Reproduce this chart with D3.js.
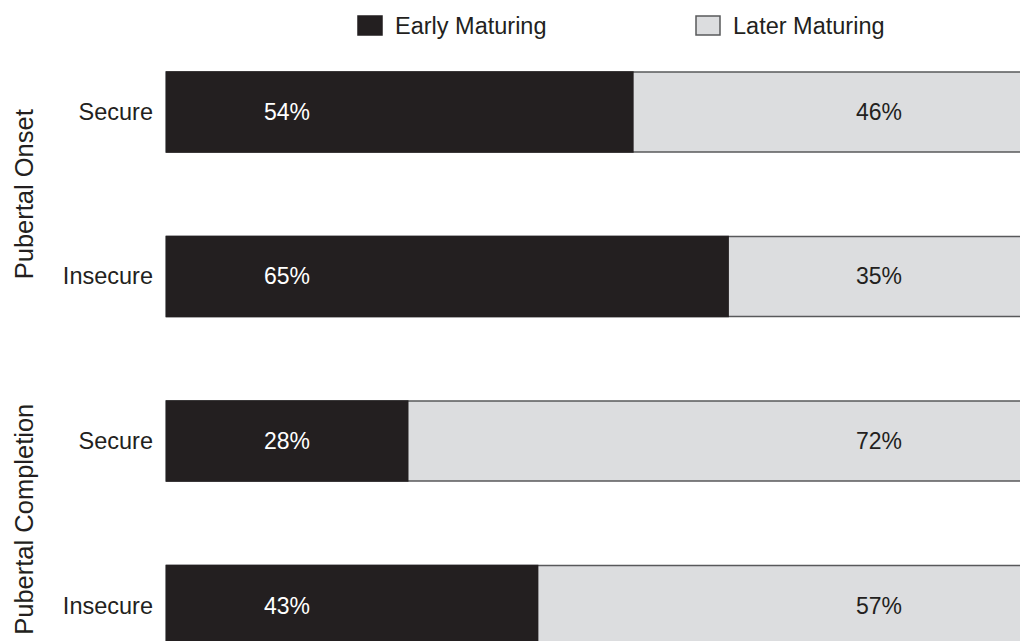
<!DOCTYPE html>
<html>
<head>
<meta charset="utf-8">
<script src="https://cdn.jsdelivr.net/npm/d3@7"></script>
<style>
  html, body { margin: 0; padding: 0; background: #fff; overflow: hidden; }
  text { font-family: "Liberation Sans", Arial, sans-serif; fill: #231f20; }
</style>
</head>
<body>
<script>
// data
const groups = ["Pubertal Onset", "Pubertal Completion"];
const rows = ["Onset-Secure", "Onset-Insecure", "Completion-Secure", "Completion-Insecure"];
const rowLabels = ["Secure", "Insecure", "Secure", "Insecure"];
const rowGroup = [0, 0, 1, 1];
const earlyPct = [54, 65, 28, 43];
const laterPct = [46, 35, 72, 57];
const seriesNames = ["Early Maturing", "Later Maturing"];

const width = 1020, height = 641;
const dark = "#231f20", light = "#dcdddf", edge = "#58595b";

const x = d3.scaleLinear().domain([0, 100]).range([166, 1032]);
const y = d3.scaleBand().domain(rows).range([72, 645.5]).paddingInner(0.5137).paddingOuter(0);

const svg = d3.select("body").append("svg")
  .attr("width", width)
  .attr("height", height);

const data = rows.map((r, i) => ({
  row: r, label: rowLabels[i], group: rowGroup[i],
  early: earlyPct[i], later: laterPct[i]
}));

// later maturing (light) spans whole bar, early drawn on top
svg.append("g").selectAll("rect")
  .data(data)
  .join("rect")
  .attr("x", x(0))
  .attr("y", d => y(d.row))
  .attr("width", x(100) - x(0))
  .attr("height", y.bandwidth())
  .attr("fill", light)
  .attr("stroke", edge)
  .attr("stroke-width", 1.5);

svg.append("g").selectAll("rect")
  .data(data)
  .join("rect")
  .attr("x", x(0))
  .attr("y", d => y(d.row) - 0.75)
  .attr("width", d => x(d.early) - x(0))
  .attr("height", y.bandwidth() + 1.5)
  .attr("fill", dark);

// percent labels
const lab = svg.append("g").attr("font-size", 23);
lab.selectAll(".early")
  .data(data)
  .join("text")
  .attr("x", 287)
  .attr("y", d => y(d.row) + y.bandwidth() / 2 + 8)
  .attr("text-anchor", "middle")
  .style("fill", "#fff")
  .text(d => d.early + "%");
lab.selectAll(".later")
  .data(data)
  .join("text")
  .attr("x", 879)
  .attr("y", d => y(d.row) + y.bandwidth() / 2 + 8)
  .attr("text-anchor", "middle")
  .text(d => d.later + "%");

// row labels
svg.append("g").attr("font-size", 23.5).selectAll("text")
  .data(data)
  .join("text")
  .attr("x", 153)
  .attr("y", d => y(d.row) + y.bandwidth() / 2 + 8)
  .attr("text-anchor", "end")
  .text(d => d.label);

// group labels, rotated (second one sits a bit higher so it stays on the page)
const groupShift = [0, -4];
svg.append("g").attr("font-size", 25.5).selectAll("text")
  .data(groups)
  .join("text")
  .attr("transform", (g, gi) => {
    const rs = data.filter(d => d.group === gi);
    const cy = (y(rs[0].row) + y(rs[rs.length - 1].row) + y.bandwidth()) / 2 + groupShift[gi];
    return `translate(33,${cy}) rotate(-90)`;
  })
  .attr("text-anchor", "middle")
  .text(d => d);

// legend
const legendX = [358, 696];
const leg = svg.append("g").selectAll("g")
  .data(seriesNames)
  .join("g")
  .attr("transform", (d, i) => `translate(${legendX[i]},0)`);
leg.append("rect")
  .attr("x", 0).attr("y", 16)
  .attr("width", 24).attr("height", 19)
  .attr("fill", (d, i) => i === 0 ? dark : light)
  .attr("stroke", (d, i) => i === 0 ? dark : edge)
  .attr("stroke-width", 1.5);
leg.append("text")
  .attr("x", 37).attr("y", 34)
  .attr("font-size", 23.5)
  .text(d => d);
</script>
</body>
</html>
